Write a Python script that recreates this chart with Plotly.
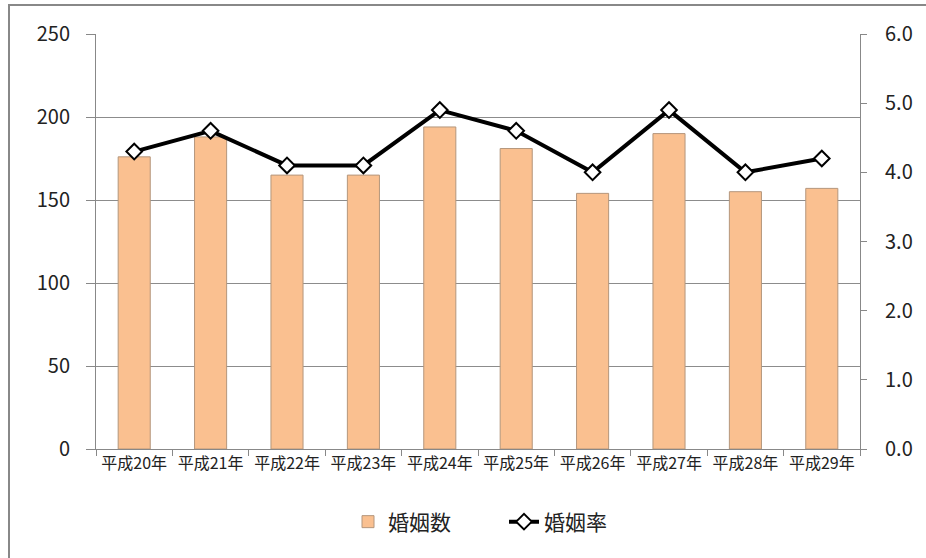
import plotly.graph_objects as go

categories = ["平成20年", "平成21年", "平成22年", "平成23年", "平成24年",
              "平成25年", "平成26年", "平成27年", "平成28年", "平成29年"]
marriages = [176, 188, 165, 165, 194, 181, 154, 190, 155, 157]
marriage_rate = [4.3, 4.6, 4.1, 4.1, 4.9, 4.6, 4.0, 4.9, 4.0, 4.2]
left_ticks = [0, 50, 100, 150, 200, 250]
right_ticks = [0, 1, 2, 3, 4, 5, 6]

FONT = "Noto Sans CJK JP"

fig = go.Figure()
fig.add_trace(go.Bar(
    x=categories, y=marriages, name="婚姻数",
    marker=dict(color="#FAC090", line=dict(color="#B4967C", width=1)),
    width=0.42,
))
fig.add_trace(go.Scatter(
    x=categories, y=marriage_rate, name="婚姻率", yaxis="y2",
    mode="lines+markers",
    line=dict(color="#000000", width=4),
    marker=dict(symbol="diamond", size=12, color="#FFFFFF",
                line=dict(color="#000000", width=2)),
))

L, R, T, B = 96, 66, 34, 109
W, H = 926, 558
pw, ph = W - L - R, H - T - B

fig.update_layout(
    width=W, height=H,
    margin=dict(l=L, r=R, t=T, b=B, pad=0, autoexpand=False),
    paper_bgcolor="white", plot_bgcolor="white",
    font=dict(family=FONT, color="#222222"),
    showlegend=True,
    legend=dict(orientation="h", x=(348 - L) / pw, xanchor="left",
                y=(449 - 522) / ph, yanchor="middle",
                font=dict(size=21, family=FONT, color="#222222"),
                entrywidth=111, entrywidthmode="pixels",
                bgcolor="rgba(0,0,0,0)"),
    bargap=0.58,
    xaxis=dict(
        type="category", range=[-0.5, len(categories) - 0.5],
        showline=True, linecolor="#888888", linewidth=1,
        ticks="outside", tickson="boundaries", ticklen=6, tickcolor="#888888",
        tickfont=dict(size=16, family=FONT, color="#222222"),
        showgrid=False, zeroline=False, automargin=False,
    ),
    yaxis=dict(
        range=[0, 250], tickvals=left_ticks, showline=True, linecolor="#888888",
        ticks="outside", ticklen=9, tickcolor="#888888",
        gridcolor="#8C8C8C", gridwidth=1, zeroline=False,
        tickfont=dict(size=20, family=FONT, color="#222222"),
        ticklabelstandoff=12, automargin=False,
    ),
    yaxis2=dict(
        range=[0, 6], tickvals=right_ticks, tickformat=".1f",
        overlaying="y", side="right", showline=True, linecolor="#888888",
        ticks="outside", ticklen=6, tickcolor="#888888",
        showgrid=False, zeroline=False,
        tickfont=dict(size=20, family=FONT, color="#222222"),
        ticklabelstandoff=14, automargin=False,
    ),
    shapes=[dict(
        type="rect", xref="paper", yref="paper",
        x0=(9 - L) / pw, x1=(940 - L) / pw,
        y0=(449 - 570) / ph, y1=(449 - 5) / ph,
        line=dict(color="#888888", width=2), fillcolor="rgba(0,0,0,0)",
        layer="below",
    )],
)

fig.write_html("out.html", config={"displayModeBar": False})

with open("out.html", encoding="utf-8") as f:
    html = f.read()
html = html.replace("<body>", '<body style="margin:0;padding:0;overflow:hidden">', 1)
with open("out.html", "w", encoding="utf-8") as f:
    f.write(html)
